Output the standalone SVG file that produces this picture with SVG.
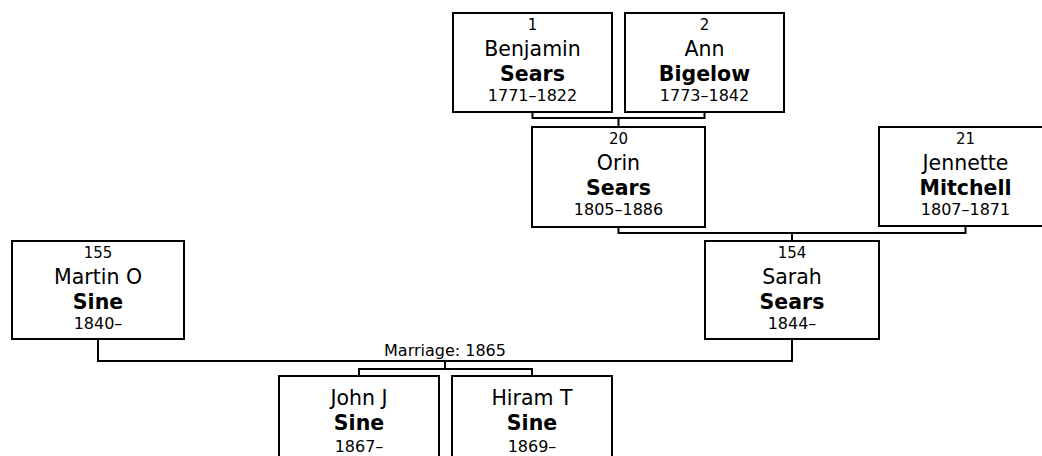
<svg xmlns="http://www.w3.org/2000/svg" width="1042" height="456" viewBox="0 0 1042 456">
<style>
  .box { fill: #ffffff; stroke: #000000; stroke-width: 2; }
  .con { fill: none; stroke: #000000; stroke-width: 2; }
  text { font-family: "DejaVu Sans", Verdana, sans-serif; fill: #000000; text-anchor: middle; }
  .num { font-size: 15px; }
  .given { font-size: 20.5px; }
  .sur { font-size: 20.5px; font-weight: bold; }
  .dates { font-size: 16px; }
  .lbl { font-size: 16px; }
</style>
<rect width="1042" height="456" fill="#ffffff"/>
<g id="connectors">
  <path class="con" d="M532.5,112 V118 H704.5 V112 M618.5,118 V127"/>
  <path class="con" d="M618.5,227 V233 H965.5 V226 M792,233 V241"/>
  <path class="con" d="M98,339 V361 H792 V339 M445,361 V369 M359,376 V369 H532 V376"/>
  <text class="lbl" x="445" y="356">Marriage: 1865</text>
</g>
<g id="p1">
  <rect class="box" x="453" y="13" width="159" height="99"/>
  <text class="num" x="532.5" y="29.5">1</text>
  <text class="given" x="532.5" y="56">Benjamin</text>
  <text class="sur" x="532.5" y="81">Sears</text>
  <text class="dates" x="532.5" y="100.5">1771–1822</text>
</g>
<g id="p2">
  <rect class="box" x="625" y="13" width="159" height="99"/>
  <text class="num" x="704.5" y="29.5">2</text>
  <text class="given" x="704.5" y="56">Ann</text>
  <text class="sur" x="704.5" y="81">Bigelow</text>
  <text class="dates" x="704.5" y="100.5">1773–1842</text>
</g>
<g id="p20">
  <rect class="box" x="532" y="127" width="173" height="100"/>
  <text class="num" x="618.5" y="143.5">20</text>
  <text class="given" x="618.5" y="170">Orin</text>
  <text class="sur" x="618.5" y="195">Sears</text>
  <text class="dates" x="618.5" y="214.5">1805–1886</text>
</g>
<g id="p21">
  <rect class="box" x="879" y="127" width="173" height="99"/>
  <text class="num" x="965.5" y="143.5">21</text>
  <text class="given" x="965.5" y="170">Jennette</text>
  <text class="sur" x="965.5" y="195">Mitchell</text>
  <text class="dates" x="965.5" y="214.5">1807–1871</text>
</g>
<g id="p154">
  <rect class="box" x="705" y="241" width="174" height="98"/>
  <text class="num" x="792" y="257.5">154</text>
  <text class="given" x="792" y="284">Sarah</text>
  <text class="sur" x="792" y="309">Sears</text>
  <text class="dates" x="792" y="328.5">1844–</text>
</g>
<g id="p155">
  <rect class="box" x="12" y="241" width="172" height="98"/>
  <text class="num" x="98" y="257.5">155</text>
  <text class="given" x="98" y="284">Martin O</text>
  <text class="sur" x="98" y="309">Sine</text>
  <text class="dates" x="98" y="328.5">1840–</text>
</g>
<g id="john">
  <rect class="box" x="279" y="376" width="160" height="99"/>
  <text class="given" x="359" y="405">John J</text>
  <text class="sur" x="359" y="430">Sine</text>
  <text class="dates" x="359" y="452">1867–</text>
</g>
<g id="hiram">
  <rect class="box" x="452" y="376" width="160" height="99"/>
  <text class="given" x="532" y="405">Hiram T</text>
  <text class="sur" x="532" y="430">Sine</text>
  <text class="dates" x="532" y="452">1869–</text>
</g>
</svg>
